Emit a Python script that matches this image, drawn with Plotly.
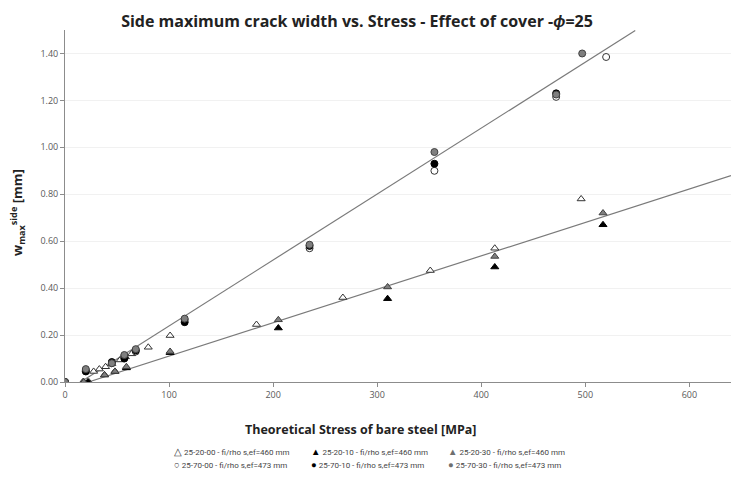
import plotly.graph_objects as go

# ---- data ----
s_20_00 = [0, 17, 23, 27.5, 33, 39, 45, 53, 58, 64, 80, 101, 184, 267, 351, 413, 496]
w_20_00 = [0, 0, 0, 0.045, 0.055, 0.065, 0.078, 0.094, 0.107, 0.12, 0.148, 0.198, 0.245, 0.36, 0.475, 0.57, 0.78]

s_20_10 = [0, 18, 22, 38, 48, 59, 101, 205, 310, 413, 517]
w_20_10 = [0, 0, 0, 0.03, 0.045, 0.06, 0.125, 0.23, 0.355, 0.49, 0.67]

s_20_30 = [0, 18, 38, 48, 59, 101, 205, 310, 413, 517]
w_20_30 = [0, 0, 0.03, 0.045, 0.065, 0.13, 0.265, 0.405, 0.535, 0.72]

s_70_00 = [0, 20, 45, 57, 68, 115, 235, 355, 472, 520]
w_70_00 = [0, 0.05, 0.08, 0.11, 0.13, 0.265, 0.57, 0.90, 1.215, 1.385]

s_70_10 = [0, 20, 45, 57, 68, 115, 235, 355, 472]
w_70_10 = [0, 0.045, 0.085, 0.10, 0.135, 0.255, 0.58, 0.93, 1.23]

s_70_30 = [0, 20, 45, 57, 68, 115, 235, 355, 472, 497]
w_70_30 = [0, 0.055, 0.08, 0.115, 0.14, 0.27, 0.585, 0.98, 1.225, 1.40]

series_names = [
    "25-20-00 - fi/rho s,ef=460 mm",
    "25-20-10 - fi/rho s,ef=460 mm",
    "25-20-30 - fi/rho s,ef=460 mm",
    "25-70-00 - fi/rho s,ef=473 mm",
    "25-70-10 - fi/rho s,ef=473 mm",
    "25-70-30 - fi/rho s,ef=473 mm",
]

# linear trend lines: (x-intercept, slope, x end)
trend_upper = (15, 0.00281, 548)
trend_lower = (22.5, 0.001424, 640)

x_ticks = [0, 100, 200, 300, 400, 500, 600]
y_ticks = [0.0, 0.2, 0.4, 0.6, 0.8, 1.0, 1.2, 1.4]

styles = [
    ("triangle-up", "white", "#333333", "△", "#333333"),
    ("triangle-up", "black", "black", "▲", "#000000"),
    ("triangle-up", "#7f7f7f", "#404040", "▲", "#6f6f6f"),
    ("circle", "white", "#333333", "○", "#333333"),
    ("circle", "black", "black", "●", "#000000"),
    ("circle", "#7f7f7f", "#404040", "●", "#6f6f6f"),
]
data_x = [s_20_00, s_20_10, s_20_30, s_70_00, s_70_10, s_70_30]
data_y = [w_20_00, w_20_10, w_20_30, w_70_00, w_70_10, w_70_30]

fig = go.Figure()

for x0, k, x1 in (trend_upper, trend_lower):
    fig.add_trace(go.Scatter(
        x=[x0, x1], y=[0, k * (x1 - x0)], mode="lines",
        line=dict(color="#7a7a7a", width=1.2), showlegend=False, hoverinfo="skip"))

for name, xs, ys, (sym, fill, edge, _, _) in zip(series_names, data_x, data_y, styles):
    fig.add_trace(go.Scatter(
        x=xs, y=ys, mode="markers", name=name, showlegend=False,
        marker=dict(symbol=sym, size=7, color=fill, line=dict(color=edge, width=1))))

# legend drawn as text entries (3 columns x 2 rows), like the reference
L, W, T, H = 65, 666, 30, 352
col_px = [172, 309, 446]
row_px = [452, 464]
annotations = []
for i, (name, st) in enumerate(zip(series_names, styles)):
    cx = col_px[i % 3]
    ry = row_px[i // 3]
    annotations.append(dict(
        text=f"<span style='color:{st[4]};font-size:9.5px'>{st[3]}</span> {name}",
        xref="paper", yref="paper", x=(cx - L) / W, y=(T + H - ry) / H,
        xanchor="left", yanchor="middle", showarrow=False,
        font=dict(size=8, color="#454545", family="Roboto, Arial, sans-serif")))

annotations.append(dict(
    text="<b>Theoretical Stress of bare steel [MPa]</b>",
    xref="paper", yref="paper", x=(361 - L) / W, y=(T + H - 430) / H,
    xanchor="center", yanchor="middle", showarrow=False,
    font=dict(size=12.5, color="#222222")))

annotations.append(dict(
    text="<b>w<sub>max</sub><sup>side</sup> [mm]</b>",
    xref="paper", yref="paper", x=(17 - L) / W, y=(T + H - 213) / H,
    xanchor="center", yanchor="middle", showarrow=False, textangle=-90,
    font=dict(size=13, color="#222222")))

fig.update_layout(
    width=732, height=478,
    margin=dict(l=L, r=732 - L - W, t=T, b=478 - T - H),
    paper_bgcolor="white", plot_bgcolor="white", showlegend=False,
    font=dict(family="Open Sans, Arial, sans-serif", color="#595959", size=9),
    title=dict(
        text="<b>Side maximum crack width vs. Stress - Effect of cover -<i>ϕ</i>=25</b>",
        x=357 / 732, xanchor="center", y=1 - 21 / 478, yanchor="middle",
        font=dict(size=16, color="#222222", family="Open Sans, Arial, sans-serif")),
    xaxis=dict(
        range=[0, 640], tickvals=x_ticks, ticks="outside", ticklen=4,
        tickcolor="#8c8c8c", showline=True, linecolor="#8c8c8c", linewidth=1,
        showgrid=False, zeroline=False, tickfont=dict(size=9, color="#595959")),
    yaxis=dict(
        range=[0, 1.5], tickvals=y_ticks, tickformat=".2f", ticks="outside", ticklen=4,
        tickcolor="#8c8c8c", showline=True, linecolor="#8c8c8c", linewidth=1,
        showgrid=True, gridcolor="#f1f1f1", zeroline=False,
        tickfont=dict(size=9, color="#595959")),
    annotations=annotations,
)

fig.write_html("out.html")
